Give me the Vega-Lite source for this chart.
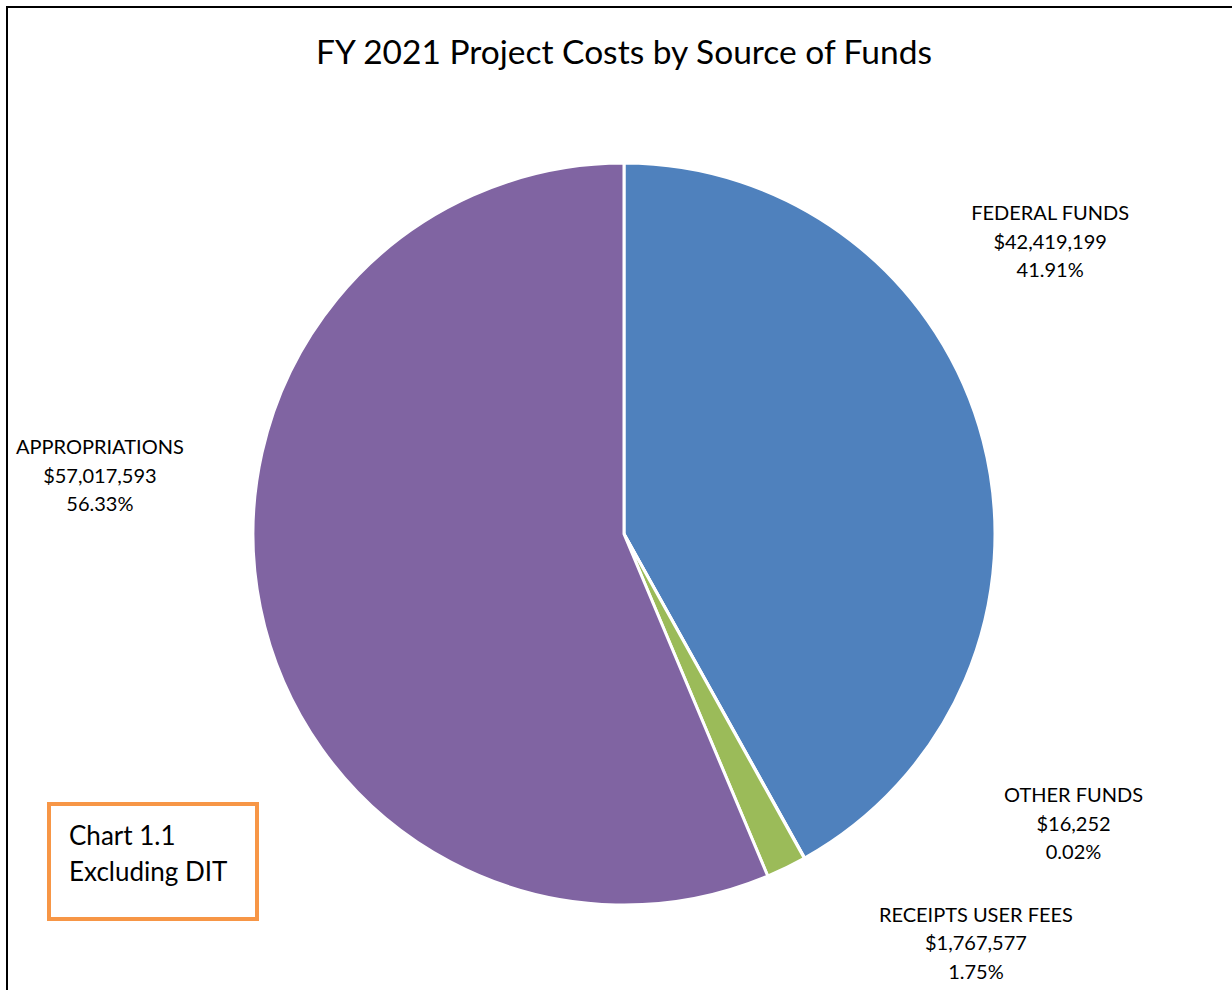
{
  "$schema": "https://vega.github.io/schema/vega-lite/v6.json",
  "width": 1234,
  "height": 1054,
  "autosize": {"type": "none"},
  "padding": {"left": 7, "top": 7, "right": 0, "bottom": 0},
  "background": "white",
  "view": {"stroke": "black", "strokeWidth": 2, "fill": "white"},
  "config": {"legend": {"strokeWidth": 4}},
  "title": {
    "text": "FY 2021 Project Costs by Source of Funds",
    "font": "Lato",
    "fontSize": 33.5,
    "fontWeight": "normal",
    "color": "black",
    "anchor": "middle",
    "frame": "group",
    "offset": -64
  },
  "data": {
    "values": [
      {"source": "FEDERAL FUNDS", "rank": 1, "amount": 42419199, "label": "FEDERAL  FUNDS\n$42,419,199\n41.91%"},
      {"source": "OTHER FUNDS", "rank": 2, "amount": 16252, "label": "OTHER  FUNDS\n$16,252\n0.02%"},
      {"source": "RECEIPTS USER FEES", "rank": 3, "amount": 1767577, "label": "RECEIPTS USER FEES\n$1,767,577\n1.75%"},
      {"source": "APPROPRIATIONS", "rank": 4, "amount": 57017593, "label": "APPROPRIATIONS\n$57,017,593\n56.33%"}
    ]
  },
  "encoding": {
    "theta": {"field": "amount", "type": "quantitative", "stack": true},
    "order": {"field": "rank", "type": "quantitative"}
  },
  "layer": [
    {
      "mark": {"type": "arc", "outerRadius": 371, "stroke": "white", "strokeWidth": 3},
      "encoding": {
        "color": {
          "field": "source",
          "type": "nominal",
          "scale": {
            "domain": ["FEDERAL FUNDS", "OTHER FUNDS", "RECEIPTS USER FEES", "APPROPRIATIONS"],
            "range": ["#4F81BD", "#C0504D", "#9BBB59", "#8064A2"]
          },
          "legend": {
            "values": ["APPROPRIATIONS"],
            "orient": "none",
            "legendX": 42,
            "legendY": 797,
            "title": ["Chart 1.1", "Excluding DIT"],
            "titleFont": "Lato",
            "titleFontSize": 26,
            "titleFontWeight": "normal",
            "titleColor": "black",
            "titleLineHeight": 36,
            "titleLimit": 400,
            "titlePadding": 12,
            "padding": 20,
            "symbolSize": 1,
            "symbolOpacity": 0,
            "symbolStrokeWidth": 0,
            "labelFontSize": 1,
            "labelOpacity": 0,
            "labelOffset": 158,
            "strokeColor": "#F79646",
            "fillColor": "white"
          }
        }
      }
    },
    {
      "mark": {"type": "text", "radius": 400, "font": "Lato", "fontSize": 20, "lineHeight": 28.5, "lineBreak": "\n", "align": "center", "baseline": "middle", "color": "black", "dx": 39, "dy": -219},
      "encoding": {"text": {"condition": {"test": "datum.source === 'FEDERAL FUNDS'", "field": "label"}, "value": ""}}
    },
    {
      "mark": {"type": "text", "radius": 400, "font": "Lato", "fontSize": 20, "lineHeight": 28.5, "lineBreak": "\n", "align": "center", "baseline": "middle", "color": "black", "dx": 255, "dy": -87},
      "encoding": {"text": {"condition": {"test": "datum.source === 'OTHER FUNDS'", "field": "label"}, "value": ""}}
    },
    {
      "mark": {"type": "text", "radius": 400, "font": "Lato", "fontSize": 20, "lineHeight": 28.5, "lineBreak": "\n", "align": "center", "baseline": "middle", "color": "black", "dx": 177, "dy": 22},
      "encoding": {"text": {"condition": {"test": "datum.source === 'RECEIPTS USER FEES'", "field": "label"}, "value": ""}}
    },
    {
      "mark": {"type": "text", "radius": 400, "font": "Lato", "fontSize": 20, "lineHeight": 28.5, "lineBreak": "\n", "align": "center", "baseline": "middle", "color": "black", "dx": -132, "dy": -165},
      "encoding": {"text": {"condition": {"test": "datum.source === 'APPROPRIATIONS'", "field": "label"}, "value": ""}}
    }
  ]
}
